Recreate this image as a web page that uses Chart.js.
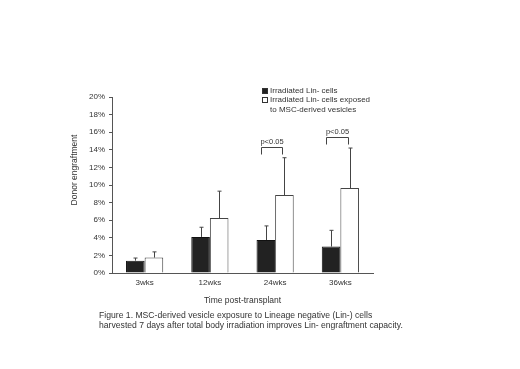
<!DOCTYPE html>
<html>
<head>
<meta charset="utf-8">
<script src="https://cdn.jsdelivr.net/npm/chart.js@4.4.0/dist/chart.umd.min.js"></script>
<style>
  body { margin: 0; background: #fff; }
  #c { display: block; }
</style>
</head>
<body>
<canvas id="c" width="520" height="369"></canvas>
<script>
// datos
const categories = ['3wks', '12wks', '24wks', '36wks']
const irradiated = [1.4, 4.1, 3.75, 3.0]
const irradiatedErrTop = [1.7, 5.2, 5.35, 4.85]
const exposed = [1.75, 6.25, 8.85, 9.65]
const exposedErrTop = [2.4, 9.3, 13.1, 14.2]
const pCats = [2, 3]
const pLevels = [14.3, 15.4]
const pText = 'p<0.05'

const FONT = 'Liberation Sans, Arial, sans-serif'

// barras de error (solo hacia arriba), corchetes p y leyenda
const extras = {
    id: 'extras',
    afterDatasetsDraw(chart) {
        const ctx = chart.ctx
        const y = chart.scales.y
        const tops = [irradiatedErrTop, exposedErrTop]
        ctx.save()
        ctx.strokeStyle = '#444'
        ctx.lineWidth = 1
        chart.data.datasets.forEach((ds, di) => {
            chart.getDatasetMeta(di).data.forEach((el, i) => {
                const x = Math.round(el.x) + 0.5
                const yt = y.getPixelForValue(tops[di][i])
                ctx.beginPath()
                ctx.moveTo(x, el.y)
                ctx.lineTo(x, yt)
                ctx.moveTo(x - 2, yt)
                ctx.lineTo(x + 2, yt)
                ctx.stroke()
            })
        })

        // corchetes p<0.05
        ctx.fillStyle = '#333'
        ctx.font = '7.5px ' + FONT
        ctx.textAlign = 'center'
        ctx.textBaseline = 'alphabetic'
        pCats.forEach((ci, k) => {
            const x0 = Math.round(chart.getDatasetMeta(0).data[ci].x) - 4.5
            const x1 = Math.round(chart.getDatasetMeta(1).data[ci].x) - 1.5
            const yb = Math.round(y.getPixelForValue(pLevels[k])) + 0.5
            ctx.beginPath()
            ctx.moveTo(x0, yb + 7)
            ctx.lineTo(x0, yb)
            ctx.lineTo(x1, yb)
            ctx.lineTo(x1, yb + 7)
            ctx.stroke()
            ctx.fillText(pText, (x0 + x1) / 2, yb - 4)
        })

        // leyenda
        const lx = 262
        const ly = 88
        ctx.textAlign = 'left'
        ctx.textBaseline = 'middle'
        ctx.font = '8px ' + FONT
        chart.data.datasets.forEach((ds, di) => {
            const by = ly + di * 9
            ctx.fillStyle = ds.backgroundColor
            ctx.fillRect(lx + 0.5, by + 0.5, 5, 5)
            ctx.strokeStyle = '#333'
            ctx.strokeRect(lx + 0.5, by + 0.5, 5, 5)
            ctx.fillStyle = '#333'
            const lines = Array.isArray(ds.label) ? ds.label : [ds.label]
            lines.forEach((t, li) => ctx.fillText(t, lx + 8, by + 3 + li * 9.5))
        })

        // titulo eje y
        ctx.save()
        ctx.translate(75, 170)
        ctx.rotate(-Math.PI / 2)
        ctx.textAlign = 'center'
        ctx.font = '8.5px ' + FONT
        ctx.fillStyle = '#333'
        ctx.fillText('Donor engraftment', 0, 0)
        ctx.restore()

        // pie de figura
        ctx.font = '8.65px ' + FONT
        ctx.fillStyle = '#333'
        ctx.textBaseline = 'middle'
        ctx.fillText('Figure 1. MSC-derived vesicle exposure to Lineage negative (Lin-) cells', 99, 316)
        ctx.fillText('harvested 7 days after total body irradiation improves Lin- engraftment capacity.', 99, 325.5)
        ctx.restore()
    }
}

new Chart('c', {
    type: 'bar',
    data: {
        labels: categories,
        datasets: [{
            label: 'Irradiated Lin- cells',
            data: irradiated,
            backgroundColor: '#222',
            borderColor: '#111',
            borderWidth: 1
        }, {
            label: ['Irradiated Lin- cells exposed', 'to MSC-derived vesicles'],
            data: exposed,
            backgroundColor: '#fff',
            borderColor: '#444',
            borderWidth: 1
        }]
    },
    options: {
        responsive: false,
        animation: false,
        layout: { padding: { left: 72, right: 147, top: 97, bottom: 63 } },
        plugins: { legend: { display: false }, tooltip: { enabled: false } },
        datasets: { bar: { categoryPercentage: 0.57, barPercentage: 1.0 } },
        scales: {
            x: {
                grid: { drawOnChartArea: false, drawTicks: false },
                border: { color: '#555' },
                ticks: { padding: 5, color: '#333', font: { family: FONT, size: 8 } },
                title: { display: true, text: 'Time post-transplant', color: '#333', padding: 0, font: { family: FONT, size: 8.5 } },
                afterFit: s => { s.height = 33 }
            },
            y: {
                min: 0,
                max: 20,
                grid: { drawOnChartArea: false, drawTicks: true, tickLength: 3, color: '#555' },
                border: { color: '#555' },
                ticks: { stepSize: 2, padding: 4, color: '#333', font: { family: FONT, size: 8 }, callback: v => v + '%' },
                afterFit: s => { s.width = 40 }
            }
        }
    },
    plugins: [extras]
})
</script>
</body>
</html>
